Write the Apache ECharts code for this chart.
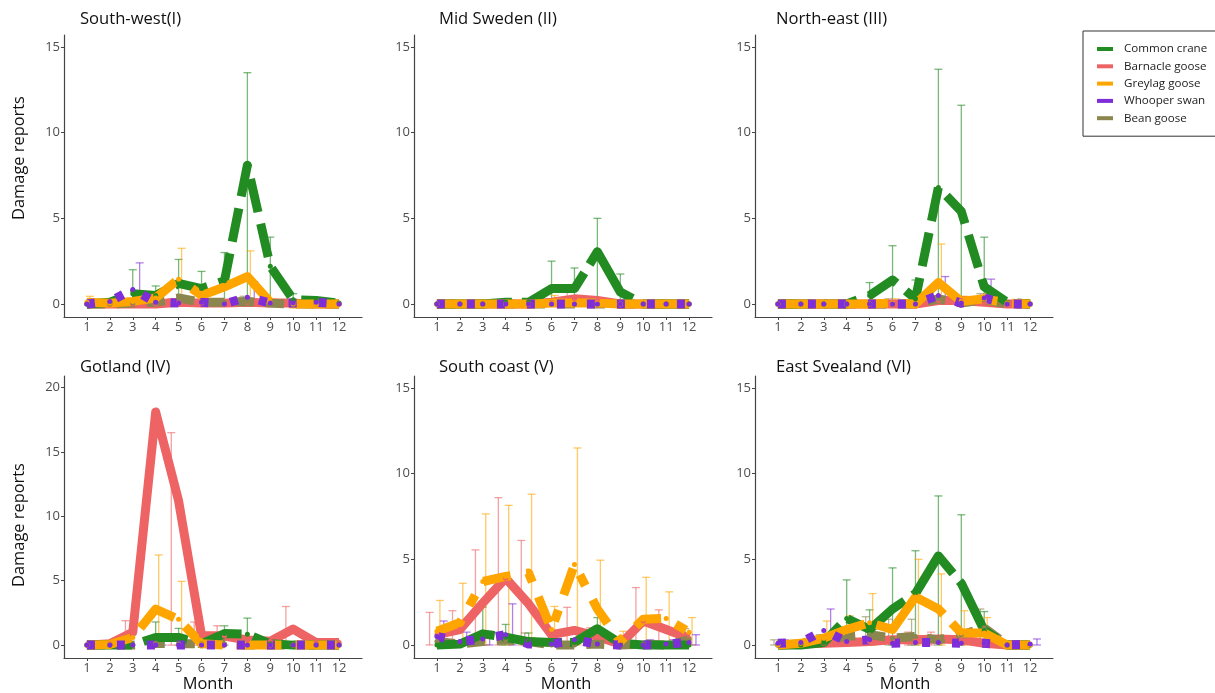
<!DOCTYPE html>
<html><head><meta charset="utf-8">
<script src="https://cdn.jsdelivr.net/npm/echarts@6/dist/echarts.min.js"></script>
<style>html,body{margin:0;padding:0;background:#fff}#c{width:1215px;height:693px}</style>
</head><body><div id="c"></div>
<script>
const months = [1,2,3,4,5,6,7,8,9,10,11,12];
const speciesNames = ['Common crane','Barnacle goose','Greylag goose','Whooper swan','Bean goose'];
const panelTitles = ['South-west(I)','Mid Sweden (II)','North-east (III)','Gotland (IV)','South coast (V)','East Svealand (VI)'];
const yTicksStd = [0,5,10,15];
const yTicksGotland = [0,5,10,15,20];
const xAxisName = 'Month';
const yAxisName = 'Damage reports';

// South-west (I)
const SW_crane   = [0,0.1,0.6,0.5,1.2,0.9,1.35,8.1,2.2,0.25,0.2,0.05];
const SW_barn    = [0,0,0,0,0.1,0.05,0.05,0.1,0.05,0.05,0,0];
const SW_grey    = [0.1,0.05,0.15,0.35,1.45,0.5,1.0,1.6,0.1,0,0,0];
const SW_whoop   = [0,0.15,0.85,0.1,0.05,0.1,0,0.4,0.05,0.05,0.1,0];
const SW_bean    = [0,0,0.05,0.1,0.35,0.1,0.1,0.15,0.05,0,0,0];
const SW_crane_e = [null,null,2.0,1.05,2.6,1.9,3.0,13.5,3.9,0.6,0.15,null];
const SW_barn_e  = [null,null,null,null,0.3,null,null,null,null,null,null,null];
const SW_grey_e  = [0.45,null,null,null,3.25,null,null,3.1,0.3,null,null,null];
const SW_whoop_e = [null,null,2.4,null,null,null,null,1.3,null,null,0.3,null];
const SW_bean_e  = [null,null,null,null,null,null,0.2,0.45,null,null,null,null];

// Mid Sweden (II)
const MS_crane   = [0,0,0,0.1,0.1,0.9,0.9,3.05,0.7,0,0,0];
const MS_barn    = [0,0,0,0,0,0.1,0.3,0.2,0,0,0,0];
const MS_grey    = [0,0,0,0,0,0.05,0.05,0.05,0,0,0,0];
const MS_whoop   = [0,0,0,0,0,0,0,0,0,0,0,0];
const MS_bean    = [0,0,0,0,0,0,0,0,0,0,0,0];
const MS_crane_e = [null,null,null,0.2,0.2,2.5,2.1,5.0,1.75,null,null,null];
const MS_barn_e  = [null,null,null,null,null,null,0.7,null,null,null,null,null];
const MS_grey_e  = [null,null,null,null,null,0.5,null,null,null,0.15,null,null];
const MS_whoop_e = [null,null,null,null,null,null,null,null,null,null,null,null];
const MS_bean_e  = [null,null,null,null,null,null,null,null,null,null,null,null];

// North-east (III)
const NE_crane   = [0,0,0,0,0.5,1.4,0.3,6.8,5.4,1.0,0.1,0];
const NE_barn    = [0,0,0,0,0,0,0,0.2,0.2,0.1,0,0];
const NE_grey    = [0,0,0,0,0,0.05,0,1.25,0.15,0.3,0.05,0];
const NE_whoop   = [0,0,0,0,0,0,0,0.5,0.05,0.35,0,0];
const NE_bean    = [0,0,0,0,0,0,0,0.3,0.05,0.25,0,0];
const NE_crane_e = [null,null,null,null,1.25,3.4,1.4,13.7,11.6,3.9,null,null];
const NE_barn_e  = [null,null,null,null,null,null,null,null,null,null,null,null];
const NE_grey_e  = [null,null,null,null,null,0.3,null,3.5,0.45,0.6,null,null];
const NE_whoop_e = [null,null,null,null,null,null,null,1.6,null,1.45,null,null];
const NE_bean_e  = [null,null,null,null,null,0.3,null,null,null,0.6,null,null];

// Gotland (IV)
const GO_crane   = [0,0,0,0.6,0.6,0.1,0.9,0.85,0.1,0,0,0];
const GO_barn    = [0,0.1,1.0,18.1,11.2,0.75,0.7,0.4,0.3,1.25,0.2,0.2];
const GO_grey    = [0,0.05,0.6,2.8,2.0,0.1,0,0,0,0,0,0];
const GO_whoop   = [0,0,0,0,0,0,0,0,0,0,0,0];
const GO_bean    = [0,0,0,0.15,0.1,0.1,0.1,0,0,0,0,0];
const GO_crane_e = [null,null,null,1.8,1.3,null,1.5,2.1,null,null,null,null];
const GO_barn_e  = [null,null,1.9,null,16.5,1.8,1.5,null,null,3.0,null,null];
const GO_grey_e  = [null,null,null,7.0,4.95,null,null,null,null,null,null,null];
const GO_whoop_e = [null,null,null,0.3,null,null,null,null,null,null,null,null];
const GO_bean_e  = [null,null,null,null,null,null,null,null,null,null,null,null];

// South coast (V)
const SC_crane   = [0,0.05,0.65,0.45,0.2,0.15,0.15,0.95,0.1,0,0,0];
const SC_barn    = [0.6,0.9,2.45,3.9,2.4,0.6,0.85,0.5,0.05,1.4,0.9,0.4];
const SC_grey    = [0.8,1.3,3.7,4.0,4.2,0.9,4.7,2.1,0.2,1.5,1.55,0.75];
const SC_whoop   = [0.5,0.2,0.35,0.6,0.05,0.05,0.3,0.05,0,0,0.05,0.15];
const SC_bean    = [0.2,0.05,0.2,0.3,0.2,0,0,0.05,0,0.05,0,0.3];
const SC_crane_e = [null,null,2.2,1.2,0.7,null,null,1.6,null,null,null,null];
const SC_barn_e  = [1.9,2.0,5.55,8.6,6.1,null,2.2,1.0,null,3.35,2.05,null];
const SC_grey_e  = [2.6,3.6,7.65,8.15,8.8,2.25,11.5,4.95,0.8,3.95,3.1,1.6];
const SC_whoop_e = [1.4,0.75,0.8,2.4,null,null,null,null,null,0.3,0.3,0.6];
const SC_bean_e  = [null,null,null,0.6,0.7,null,null,null,null,null,null,0.95];

// East Svealand (VI)
const ES_crane   = [0,0,0.15,1.55,0.9,2.1,3.0,5.2,3.6,0.85,0,0];
const ES_barn    = [0,0.05,0.1,0.15,0.2,0.3,0.3,0.35,0.3,0.1,0,0];
const ES_grey    = [0,0.1,0.4,0.9,1.3,0.9,2.8,2.1,0.7,0.7,0,0];
const ES_whoop   = [0.1,0.15,0.85,0.2,0.3,0.1,0.15,0.15,0.1,0.1,0,0.05];
const ES_bean    = [0,0.05,0.3,0.5,0.6,0.4,0.5,0.3,0.6,1.0,0,0];
const ES_crane_e = [null,null,0.6,3.8,2.05,4.5,5.5,8.7,7.6,1.95,null,null];
const ES_barn_e  = [null,null,null,null,null,null,0.75,0.75,null,null,null,null];
const ES_grey_e  = [null,null,1.4,1.7,3.0,null,5.0,4.15,2.0,1.6,null,null];
const ES_whoop_e = [0.3,null,2.1,null,null,null,null,null,null,null,null,0.35];
const ES_bean_e  = [0.3,null,0.6,null,1.65,1.5,1.5,null,1.05,2.1,null,null];

// ---------- presentation ----------
const colors = ['#228B22','#EE6363','#FFA500','#7E2ED8','#8B864E'];
const errColors = ['rgba(34,139,34,0.6)','rgba(238,99,99,0.6)','rgba(255,165,0,0.6)','rgba(126,46,216,0.6)','rgba(139,134,78,0.6)'];
const dodge = [0,-0.32,0.13,0.3,-0.17];
const DOT = [8,22];
const BEAN = [18,12];
const dashes = [
  [[34,12],'solid',[95,20],DOT,BEAN],
  [[75,10],'solid','solid',DOT,BEAN],
  [[34,12],'solid',[110,15],DOT,BEAN],
  [[45,12],'solid',[45,14],DOT,BEAN],
  [[60,8],'solid',[28,16,12,16],DOT,BEAN],
  [[70,10],'solid',[90,12],DOT,BEAN]
];
const panels = [
  {mean:[SW_crane,SW_barn,SW_grey,SW_whoop,SW_bean], err:[SW_crane_e,SW_barn_e,SW_grey_e,SW_whoop_e,SW_bean_e], ticks:yTicksStd},
  {mean:[MS_crane,MS_barn,MS_grey,MS_whoop,MS_bean], err:[MS_crane_e,MS_barn_e,MS_grey_e,MS_whoop_e,MS_bean_e], ticks:yTicksStd},
  {mean:[NE_crane,NE_barn,NE_grey,NE_whoop,NE_bean], err:[NE_crane_e,NE_barn_e,NE_grey_e,NE_whoop_e,NE_bean_e], ticks:yTicksStd},
  {mean:[GO_crane,GO_barn,GO_grey,GO_whoop,GO_bean], err:[GO_crane_e,GO_barn_e,GO_grey_e,GO_whoop_e,GO_bean_e], ticks:yTicksGotland},
  {mean:[SC_crane,SC_barn,SC_grey,SC_whoop,SC_bean], err:[SC_crane_e,SC_barn_e,SC_grey_e,SC_whoop_e,SC_bean_e], ticks:yTicksStd},
  {mean:[ES_crane,ES_barn,ES_grey,ES_whoop,ES_bean], err:[ES_crane_e,ES_barn_e,ES_grey_e,ES_whoop_e,ES_bean_e], ticks:yTicksStd}
];
const gridLefts = [64,414,755];
const gridTops = [35,376];
const FONT = "'Open Sans', 'Noto Sans', sans-serif";

const grids = [], xAxes = [], yAxes = [], series = [], graphics = [];
const drawOrder = [1,4,0,2,3];

panels.forEach((p, pi) => {
  const col = pi % 3, row = Math.floor(pi / 3);
  grids.push({left: gridLefts[col], top: gridTops[row], width: 298, height: 282});
  const isGot = (pi === 3);
  xAxes.push({
    type:'value', gridIndex: pi, min: 0, max: 13,
    axisLine:{show:true, onZero:false, lineStyle:{color:'#444', width:1.2}},
    axisTick:{show:true, length:3, customValues: months, lineStyle:{color:'#444'}},
    axisLabel:{customValues: months, fontSize:13, color:'#4d4d4d', margin:4, fontFamily: FONT},
    splitLine:{show:false}
  });
  yAxes.push({
    type:'value', gridIndex: pi, min: isGot ? -1.0 : -0.76, max: isGot ? 20.9 : 15.7,
    axisLine:{show:true, onZero:false, lineStyle:{color:'#444', width:1.2}},
    axisTick:{show:true, length:3, customValues: p.ticks, lineStyle:{color:'#444'}},
    axisLabel:{customValues: p.ticks, fontSize:13, color:'#4d4d4d', margin:4, fontFamily: FONT},
    splitLine:{show:false}
  });
  // error bars
  p.err.forEach((e, si) => {
    const data = [];
    months.forEach((m, i) => { if (e[i] != null) data.push([m + dodge[si], e[i]]); });
    series.push({
      type:'custom', name:'err', xAxisIndex: pi, yAxisIndex: pi, silent:true, z: 1,
      data: data,
      renderItem: (params, api) => {
        const x = api.value(0), up = api.value(1);
        const t = api.coord([x, up]), b = api.coord([x, 0]);
        const hw = 4;
        const st = {stroke: errColors[si], lineWidth: 1.3};
        return {type:'group', children:[
          {type:'line', shape:{x1:t[0], y1:t[1], x2:b[0], y2:b[1]}, style: st},
          {type:'line', shape:{x1:t[0]-hw, y1:t[1], x2:t[0]+hw, y2:t[1]}, style: st},
          {type:'line', shape:{x1:b[0]-hw, y1:b[1], x2:b[0]+hw, y2:b[1]}, style: st}
        ]};
      }
    });
  });
  // mean lines
  drawOrder.forEach(si => {
    series.push({
      type:'line', name: speciesNames[si], xAxisIndex: pi, yAxisIndex: pi, z: 2,
      data: months.map((m, i) => [m, p.mean[si][i]]),
      symbol:'circle', symbolSize:5, showSymbol:true,
      itemStyle:{color: colors[si]},
      lineStyle:{color: colors[si], width: 9, type: dashes[pi][si], cap:'butt', join:'round'},
      animation:false, silent:true
    });
  });
  // titles
  const tx = [80, 439, 776][col];
  graphics.push({type:'text', left: tx, top: row === 0 ? 11 : 359,
    style:{text: panelTitles[pi], font: '16.6px ' + FONT, fill:'#111'}});
});

graphics.push({type:'text', x: 19, y: 158, rotation: Math.PI/2,
  style:{text: yAxisName, font:'16.4px ' + FONT, fill:'#111', align:'center', verticalAlign:'middle'}});
graphics.push({type:'text', x: 19, y: 525, rotation: Math.PI/2,
  style:{text: yAxisName, font:'16.4px ' + FONT, fill:'#111', align:'center', verticalAlign:'middle'}});
[208, 566, 905].forEach(x => {
  graphics.push({type:'text', x: x, y: 684,
    style:{text: xAxisName, font:'16.4px ' + FONT, fill:'#111', align:'center', verticalAlign:'middle'}});
});

const chart = echarts.init(document.getElementById('c'), null, {renderer:'canvas'});
chart.setOption({
  animation:false,
  backgroundColor:'#fff',
  grid: grids, xAxis: xAxes, yAxis: yAxes, series: series,
  legend:{
    data: speciesNames, orient:'vertical', left:1083, top:31,
    padding:[11,20,11,14], itemGap:3.3, itemWidth:16, itemHeight:4, icon:'rect',
    borderColor:'#333', borderWidth:1, selectedMode:false,
    textStyle:{fontSize:11.6, color:'#222', fontFamily: FONT, lineHeight:14, padding:[0,0,0,6]}
  },
  graphic: graphics
});
</script>
</body></html>
